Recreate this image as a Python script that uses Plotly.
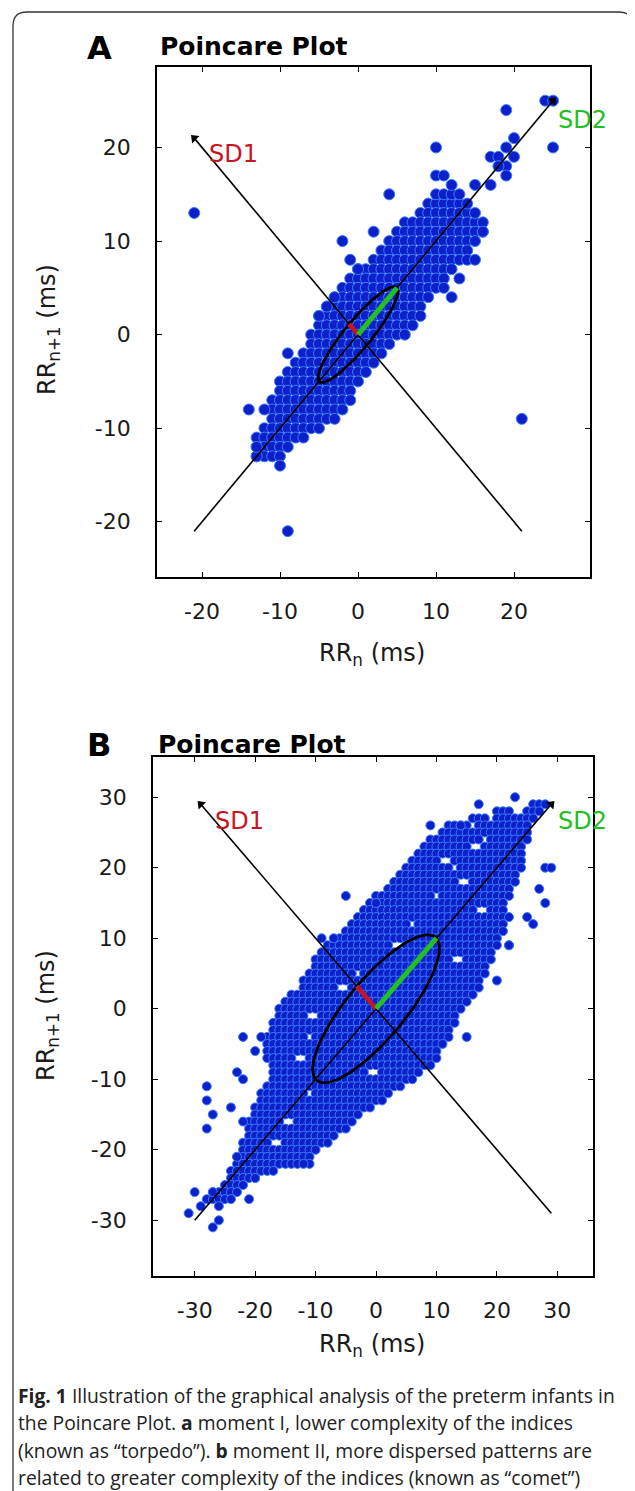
import numpy as np
import plotly.graph_objects as go

PAGE_W, PAGE_H = 635, 1491
OFF = 8                      # browser default body margin
W, H = PAGE_W - OFF, PAGE_H - OFF

# ---------------- Panel A data (RR differences, ms; integer grid) ----------------
A_RUN_Y  = [14, 13, 12, 11, 10, 9, 8, 7, 6, 5, 4, 3, 2, 1, 0, -1, -2, -3, -4, -5, -6, -7, -8, -9, -10, -11, -12, -13]
A_RUN_X0 = [9, 8, 6, 5, 4, 3, 2, 0, -1, -2, -3, -4, -5, -5, -6, -6, -7, -8, -9, -10, -10, -11, -11, -11, -12, -13, -13, -13]
A_RUN_X1 = [13, 14, 15, 16, 15, 14, 14, 12, 11, 10, 9, 8, 7, 7, 6, 4, 3, 2, 1, 0, -1, -1, -2, -3, -5, -7, -9, -10]
A_PT_X = [-21, -9, 21, 24, 25, 19, 25, 10, 10, 4, -2, 2, 17, 18, 19, 20, 20, 19, 19, 17, 15, 16, 15, 16,
          12, 13, 15, 8, 10, 11, 12, 13, 14, 11, 12, 11, -13, -13, -12, -14, -9, -5, -4, -3, 0, -1, -10, 18]
A_PT_Y = [13, -21, -9, 25, 25, 24, 20, 20, 17, 15, 10, 11, 19, 19, 20, 21, 19, 18, 17, 16, 16, 12, 13, 11,
          4, 6, 8, 2, 15, 15, 15, 15, 14, 17, 16, 5, -13, -12, -8, -8, -2, 2, 3, 4, 7, 8, -14, 18]
A_SD1, A_SD2 = 1.6, 7.07
A_DIAG = [-21, 25]      # start / arrow tip along identity line
A_PERP = [21, -21]      # start x (on y=-x) / arrow tip x
A_TICKS = [-20, -10, 0, 10, 20]
A_TICKTEXT = ["-20", "-10", "0", "10", "20"]

# ---------------- Panel B data ----------------
B_RUN_Y = [29, 28, 28, 27, 27, 26, 26, 25, 24, 24, 23, 23, 22, 21, 21, 20, 20, 19, 18, 18, 17, 16, 16, 15, 14, 14,
           13, 12, 12, 11, 10, 9, 9, 8, 7, 7, 6, 5, 5, 4, 3, 3, 2, 1, 0, -1, -1, -2, -3, -4, -4, -5, -6, -7, -7,
           -8, -9, -9, -10, -11, -12, -12, -13, -14, -15, -16, -16, -17, -18, -19, -19, -20, -21, -22, -23, -24,
           -25, -26, -27]
B_RUN_X0 = [26, 20, 25, 16, 20, 12, 17, 11, 9, 19, 8, 18, 7, 6, 13, 5, 14, 4, 3, 16, 2, 0, 11, -1, -2, 19,
            -3, -4, 7, -5, -6, -8, 5, -9, -10, 15, -10, -11, -2, -12, -12, -4, -14, -15, -16, -16, -9, -17, -17, -18, -10, -18, -18, -18, -11,
            -17, -17, 1, -17, -18, -19, -10, -19, -20, -20, -21, -13, -21, -21, -22, -15, -22, -23, -23, -24, -24,
            -25, -27, -28]
B_RUN_X1 = [28, 22, 27, 18, 26, 15, 25, 25, 17, 25, 15, 24, 24, 10, 24, 12, 24, 23, 13, 23, 22, 9, 22, 21, 16, 21,
            22, 5, 21, 21, 20, 2, 20, 19, 12, 19, 18, -4, 18, 17, -7, 17, 16, 15, 14, -12, 13, 13, 12, -12, 12, 11, 10, -14, 10,
            9, -2, 7, 6, 4, -12, 2, 1, -1, -3, -16, -4, -5, -7, -18, -8, -10, -11, -13, -17, -20,
            -22, -23, -25]
B_PT_X = [23, 17, 9, 14, 28, 28, 29, 25, 20, 15, -5, -7, -9, 0, -28, -28, -27, -28, -24, -22, -20, -19, -23, -22,
          -31, -30, -27, -29, -26, -24, -21, -20, -23, -11, -12, -27, -26, -22, 27, 26, 22, 22]
B_PT_Y = [30, 29, 26, 26, 15, 20, 20, 13, 4, -4, 16, 10, 10, 15, -11, -13, -15, -17, -14, -4, -6, -4, -9, -10,
          -29, -26, -31, -28, -28, -27, -27, -24, -21, -22, -22, -26, -30, -16, 17, 12, 9, 9]
B_SD1, B_SD2 = 4.5, 14.14
B_DIAG = [-30, 29]
B_PERP = [29, -29]
B_TICKS = [-30, -20, -10, 0, 10, 20, 30]
B_TICKTEXT = ["-30", "-20", "-10", "0", "10", "20", "30"]

CAPTION = [
    "<b>Fig. 1</b> Illustration of the graphical analysis of the preterm infants in",
    "the Poincare Plot. <b>a</b> moment I, lower complexity of the indices",
    "(known as \u201ctorpedo\u201d). <b>b</b> moment II, more dispersed patterns are",
    "related to greater complexity of the indices (known as \u201ccomet\u201d)",
]

assert len(B_RUN_Y) == len(B_RUN_X0) == len(B_RUN_X1)
assert len(A_RUN_Y) == len(A_RUN_X0) == len(A_RUN_X1)

FONT = "DejaVu Sans, Liberation Sans, Arial, sans-serif"
DOT = "#0d1fc8"
DOT_EDGE = "#3a7cff"
RED = "#c8141e"
GREEN = "#22c022"


def expand(run_y, x0, x1, px_, py_):
    xs, ys = [], []
    for y, a, b in zip(run_y, x0, x1):
        for x in range(a, b + 1):
            xs.append(x)
            ys.append(y)
    return xs + list(px_), ys + list(py_)


def ellipse(sd1, sd2, n=120):
    t = np.linspace(0, 2 * np.pi, n)
    u, v = sd2 * np.cos(t), sd1 * np.sin(t)
    c = np.sqrt(0.5)
    return c * (u - v), c * (u + v)


fig = go.Figure()
annotations = []


def panel(xa, ya, runs, pts, sd1, sd2, diag, perp, msize, sd1_pos, sd2_pos):
    xs, ys = expand(*runs, *pts)
    common = dict(xaxis=xa, yaxis=ya, showlegend=False, hoverinfo="skip")
    fig.add_trace(go.Scatter(x=xs, y=ys, mode="markers",
                             marker=dict(size=msize, color=DOT, line=dict(color=DOT_EDGE, width=1)), **common))
    fig.add_trace(go.Scatter(x=[diag[0], diag[1]], y=[diag[0], diag[1]], mode="lines",
                             line=dict(color="black", width=1.6), **common))
    fig.add_trace(go.Scatter(x=[perp[0], perp[1]], y=[-perp[0], -perp[1]], mode="lines",
                             line=dict(color="black", width=1.6), **common))
    ex, ey = ellipse(sd1, sd2)
    fig.add_trace(go.Scatter(x=ex, y=ey, mode="lines", line=dict(color="black", width=2.8), **common))
    c = np.sqrt(0.5)
    fig.add_trace(go.Scatter(x=[0, -sd1 * c], y=[0, sd1 * c], mode="lines",
                             line=dict(color=RED, width=4.5), **common))
    fig.add_trace(go.Scatter(x=[0, sd2 * c], y=[0, sd2 * c], mode="lines",
                             line=dict(color=GREEN, width=5), **common))
    fig.add_trace(go.Scatter(x=[diag[1], perp[1]], y=[diag[1], -perp[1]], mode="markers",
                             marker=dict(symbol="triangle-up", size=9, color="black", angle=[45, -45],
                                         line=dict(width=0)), cliponaxis=False, **common))
    annotations.append(dict(x=sd1_pos[0], y=sd1_pos[1], xref=xa, yref=ya, text="SD1", showarrow=False,
                            xanchor="left", yanchor="middle", font=dict(family=FONT, size=24, color=RED)))
    annotations.append(dict(x=sd2_pos[0], y=sd2_pos[1], xref=xa, yref=ya, text="SD2", showarrow=False,
                            xanchor="left", yanchor="middle", font=dict(family=FONT, size=24, color=GREEN)))


panel("x", "y", (A_RUN_Y, A_RUN_X0, A_RUN_X1), (A_PT_X, A_PT_Y), A_SD1, A_SD2, A_DIAG, A_PERP, 11,
      (-19.3, 19.3), (25.4, 22.9))
panel("x2", "y2", (B_RUN_Y, B_RUN_X0, B_RUN_X1), (B_PT_X, B_PT_Y), B_SD1, B_SD2, B_DIAG, B_PERP, 9,
      (-27, 26.6), (29.8, 26.6))


def px(x):
    """page x (px) -> paper fraction"""
    return (x - OFF) / W


def py(y):
    """page y (px) -> paper fraction"""
    return 1 - (y - OFF) / H


axis_common = dict(showline=True, linecolor="black", linewidth=1.6, mirror="ticks", ticks="inside",
                   ticklen=5, tickwidth=1.3, tickcolor="black", showgrid=False, zeroline=False,
                   tickfont=dict(family=FONT, size=22, color="#1a1a1a"))

fig.update_layout(
    width=W, height=H, margin=dict(l=0, r=0, t=0, b=0),
    paper_bgcolor="white", plot_bgcolor="white", showlegend=False,
    xaxis=dict(domain=[px(157), px(590)], range=[-25.77, 29.74], tickvals=A_TICKS, ticktext=A_TICKTEXT,
               anchor="y", ticklabelstandoff=14, **axis_common),
    yaxis=dict(domain=[py(577), py(67)], range=[-25.9, 28.6], tickvals=A_TICKS, ticktext=A_TICKTEXT,
               anchor="x", ticklabelstandoff=20, **axis_common),
    xaxis2=dict(domain=[px(153), px(593)], range=[-36.9, 35.9], tickvals=B_TICKS, ticktext=B_TICKTEXT,
                anchor="y2", ticklabelstandoff=14, **axis_common),
    yaxis2=dict(domain=[py(1276), py(757)], range=[-37.9, 35.7], tickvals=B_TICKS, ticktext=B_TICKTEXT,
                anchor="x2", ticklabelstandoff=20, **axis_common),
)

for lab, yc in [("A", 48), ("B", 745)]:
    annotations.append(dict(x=px(99), y=py(yc), xref="paper", yref="paper", text="<b>%s</b>" % lab,
                            showarrow=False, xanchor="center", yanchor="middle",
                            font=dict(family=FONT, size=32, color="black")))
for xl, yc in [(158, 47), (156, 744)]:
    annotations.append(dict(x=px(xl), y=py(yc), xref="paper", yref="paper", text="<b>Poincare Plot</b>",
                            showarrow=False, xanchor="left", yanchor="middle",
                            font=dict(family=FONT, size=25, color="black")))
for yc in [655, 1345]:
    annotations.append(dict(x=px(372), y=py(yc), xref="paper", yref="paper", text="RR<sub>n</sub> (ms)",
                            showarrow=False, xanchor="center", yanchor="middle",
                            font=dict(family=FONT, size=24, color="#1a1a1a")))
for yc in [330, 1016]:
    annotations.append(dict(x=px(48), y=py(yc), xref="paper", yref="paper", text="RR<sub>n+1</sub> (ms)",
                            showarrow=False, xanchor="center", yanchor="middle", textangle=-90,
                            font=dict(family=FONT, size=24, color="#1a1a1a")))
for i, line in enumerate(CAPTION):
    annotations.append(dict(x=px(16), y=py(1395 + 27.5 * i), xref="paper", yref="paper", text=line,
                            showarrow=False, xanchor="left", yanchor="middle",
                            font=dict(family="Open Sans, Noto Sans, sans-serif", size=19.3, color="#222")))

fig.update_layout(annotations=annotations)

# outer rounded frame (left and top edges)
r = 14
L, T, R = 13, 12, 633
path = (f"M {px(L)},{py(PAGE_H + 5)} L {px(L)},{py(T + r)} Q {px(L)},{py(T)} {px(L + r)},{py(T)} "
        f"L {px(R - r)},{py(T)} Q {px(R)},{py(T)} {px(R)},{py(T + r)} L {px(R)},{py(40)}")
fig.add_shape(type="path", path=path, xref="paper", yref="paper", line=dict(color="#333", width=1.3))

fig.write_html("out.html")
